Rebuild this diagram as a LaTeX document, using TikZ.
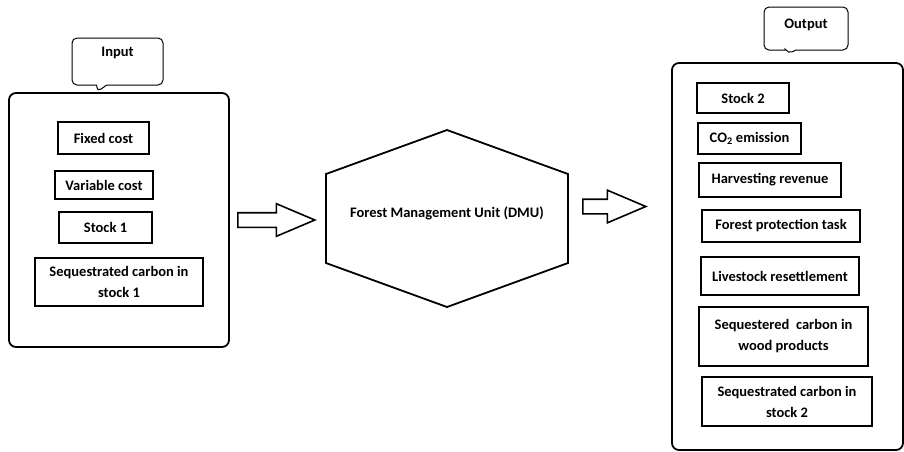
\documentclass[tikz,border=0pt]{standalone}
\usepackage{fontspec}
\setmainfont{Carlito}
\usetikzlibrary{shapes.geometric,shapes.arrows,shapes.callouts,positioning}
\tikzset{
  item/.style={draw, line width=2.2pt, inner sep=1pt, align=center,
               font=\bfseries\fontsize{14.5}{21}\selectfont},
  panel/.style={draw, line width=1.8pt, rounded corners=7pt},
  tag/.style={rectangle callout, draw, line width=1pt, rounded corners=5pt,
              callout pointer width=10pt, font=\bfseries\fontsize{14.5}{17}\selectfont},
  fat/.style={single arrow, draw, line width=1.6pt, inner sep=0pt, text height=13pt,
              text depth=0pt, single arrow head extend=9pt, single arrow tip angle=46}
}
\begin{document}
\begin{tikzpicture}[x=1pt,y=-1pt]
\useasboundingbox (0,0) rectangle (904,451);
\node[panel, minimum width=220pt, minimum height=254pt] (inbox) at (119,220) {};
\node[panel, minimum width=231pt, minimum height=387pt] (outbox) at (787.5,256.5) {};
\node[tag, minimum width=91pt, minimum height=47pt, text depth=19pt,
      callout absolute pointer={(97,92)}] (intag) at (117.5,61.5) {Input};
\node[tag, minimum width=84pt, minimum height=43pt, text depth=10pt,
      callout absolute pointer={(788,54)}] (outtag) at (806,28.5) {Output};
\node[item, minimum width=91pt, minimum height=32pt] (fixed) at (103.5,138) {Fixed cost};
\node[item, minimum width=98pt, minimum height=28pt] (var) at (104,185) {Variable cost};
\node[item, minimum width=93pt, minimum height=31pt] (st1) at (105.5,227.5) {Stock 1};
\node[item, minimum width=168pt, minimum height=48pt] (seq1) at (119,282)
  {Sequestrated carbon in\\stock 1};
\node[item, minimum width=92pt, minimum height=30pt] (st2) at (743,98) {Stock 2};
\node[item, minimum width=103pt, minimum height=31pt] (co2) at (749.5,138.5) {CO$_{\mathbf 2}$ emission};
\node[item, minimum width=142pt, minimum height=34pt] (harv) at (770,180) {Harvesting revenue};
\node[item, minimum width=158pt, minimum height=32pt] (prot) at (781,226) {Forest protection task};
\node[item, minimum width=158pt, minimum height=38pt] (live) at (780,276) {Livestock resettlement};
\node[item, minimum width=169pt, minimum height=59pt] (wood) at (783.5,336.5)
  {Sequestered\ \ carbon in\\wood products};
\node[item, minimum width=170pt, minimum height=49pt] (seq2) at (787,401.5)
  {Sequestrated carbon in\\stock 2};
\node[font=\bfseries\fontsize{14.5}{17}\selectfont] (dmu) at (447,213) {Forest Management Unit (DMU)};
\draw[line width=1.8pt, line join=miter] (326,174) -- (447,130) -- (568,174) -- (568,263)
  -- (447,307) -- (326,263) -- cycle;
\node[fat, minimum height=77pt, anchor=tail] (arrin) at (237,220) {};
\node[fat, minimum height=63pt, anchor=tail] (arrout) at (582,206.5) {};
\end{tikzpicture}
\end{document}
